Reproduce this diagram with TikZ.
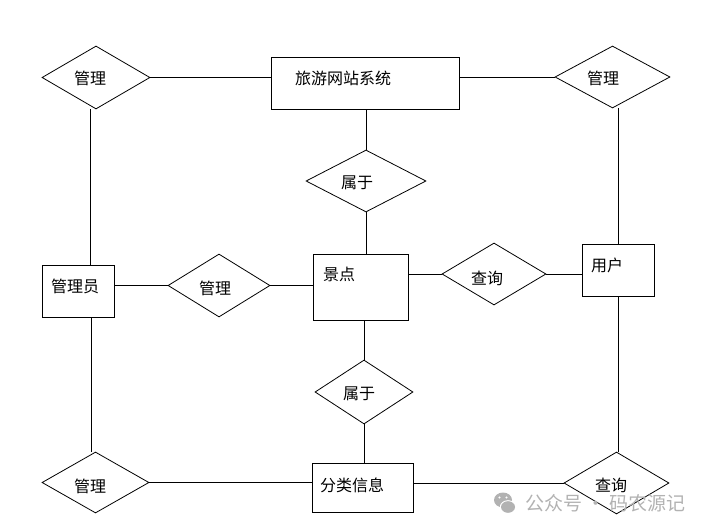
\documentclass[tikz,border=0pt]{standalone}
\usepackage{fontspec}
\setmainfont{Noto Sans CJK SC}
\usetikzlibrary{shapes.geometric,calc}
\tikzset{
  ent/.style={draw, rectangle, inner sep=0pt, line width=0.9pt},
  rel/.style={draw, diamond, inner sep=0pt, line width=0.8pt},
  lbl/.style={inner sep=0pt, font=\fontsize{16}{16}\selectfont},
  conn/.style={line width=0.9pt},
  wm/.style={inner sep=0pt, text=black!30, font=\fontsize{19}{19}\selectfont}
}
\begin{document}
\begin{tikzpicture}[x=1pt,y=-1pt]
\useasboundingbox (0,0) rectangle (706,532);
% entities
\node[ent, minimum width=188, minimum height=52] (sys) at (365,83) {};
\node[lbl] (sysl) at (343,78) {旅游网站系统};
\node[ent, minimum width=72, minimum height=52] (admin) at (78,291) {};
\node[lbl] (adminl) at (75,286) {管理员};
\node[ent, minimum width=95, minimum height=66] (spot) at (360.5,287) {};
\node[lbl] (spotl) at (339,274) {景点};
\node[ent, minimum width=72, minimum height=52] (user) at (618,270) {};
\node[lbl] (userl) at (607,265) {用户};
\node[ent, minimum width=101, minimum height=49] (cat) at (362.5,487.5) {};
\node[lbl] (catl) at (352,485) {分类信息};
% relations
\node[rel, minimum width=108, minimum height=63] (dTL) at (96,77.5) {};
\node[lbl] (dTLl) at (90,78) {管理};
\node[rel, minimum width=115, minimum height=62] (dTR) at (612.5,77) {};
\node[lbl] (dTRl) at (603,78) {管理};
\node[rel, minimum width=120, minimum height=62] (dS1) at (366,181) {};
\node[lbl] (dS1l) at (357,183) {属于};
\node[rel, minimum width=102, minimum height=63] (dM) at (219,285.5) {};
\node[lbl] (dMl) at (215,288) {管理};
\node[rel, minimum width=104, minimum height=62] (dQ) at (494,274) {};
\node[lbl] (dQl) at (487,278) {查询};
\node[rel, minimum width=98, minimum height=64] (dS2) at (364,392) {};
\node[lbl] (dS2l) at (359,394) {属于};
\node[rel, minimum width=107, minimum height=61] (dBL) at (95.5,482.5) {};
\node[lbl] (dBLl) at (90,486) {管理};
\node[rel, minimum width=105, minimum height=62] (dBR) at (616.5,483) {};
\node[lbl] (dBRl) at (611,485) {查询};
% connectors
\draw[conn] (dTL.east) -- (dTL.east -| sys.west);
\draw[conn] (dTR.west -| sys.east) -- (dTR.west);
\draw[conn] (sys.south -| dS1.north) -- (dS1.north);
\draw[conn] (dS1.south) -- (dS1.south |- spot.north);
\draw[conn] (spot.south -| dS2.north) -- (dS2.north);
\draw[conn] (dS2.south) -- (dS2.south |- cat.north);
\draw[conn] (admin.east |- dM.west) -- (dM.west);
\draw[conn] (dM.east) -- (dM.east -| spot.west);
\draw[conn] (dQ.west -| spot.east) -- (dQ.west);
\draw[conn] (dQ.east) -- (dQ.east -| user.west);
\draw[conn] (user.north) -- (user.north |- dTR.south);
\draw[conn] (user.south) -- (user.south |- dBR.north);
\draw[conn] ($(admin.north)+(12,0)$) -- ($(dTL.south)+(-6,0)$);
\draw[conn] ($(admin.south)+(13,0)$) -- ($(dBL.north)+(-4.5,0)$);
\draw[conn] (dBL.east) -- (dBL.east -| cat.west);
\draw[conn] (dBR.west -| cat.east) -- (dBR.west);
% watermark
\fill[black!30] (503,500) ellipse [x radius=9, y radius=7.5];
\fill[white] (508,507) ellipse [x radius=8.2, y radius=6.8];
\fill[black!30] (508,507) ellipse [x radius=7, y radius=5.8];
\fill[white] (499.5,497.5) circle (1.2) (506.5,497.5) circle (1.2);
\node[wm, anchor=west] (wmt) at (525,503) {公众号 · 码农源记};
\end{tikzpicture}
\end{document}
